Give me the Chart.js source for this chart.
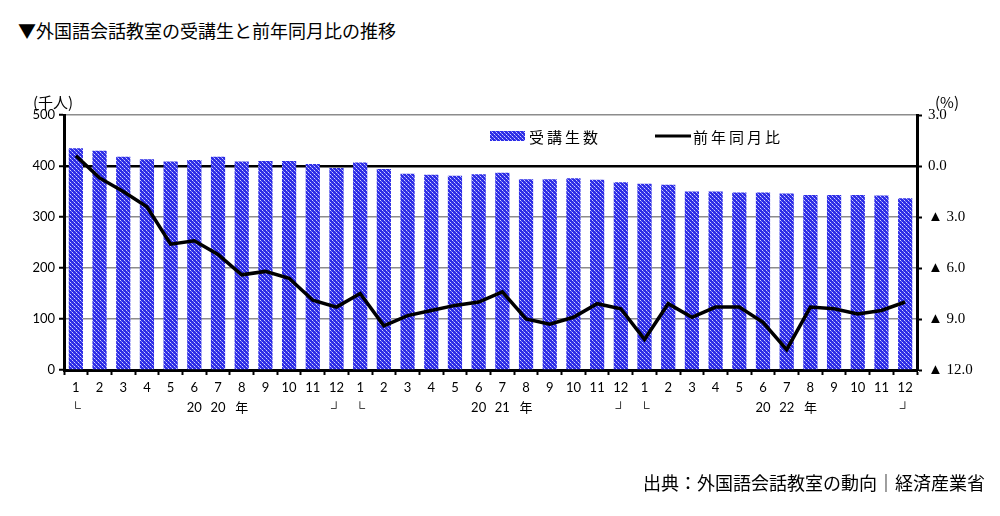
<!DOCTYPE html>
<html>
<head>
<meta charset="utf-8">
<script src="https://cdn.jsdelivr.net/npm/chart.js@4/dist/chart.umd.min.js"></script>
<style>
  html, body { margin: 0; padding: 0; background: #fff; }
  body { width: 1000px; height: 516px; position: relative; overflow: hidden;
         font-family: "Noto Sans CJK JP", sans-serif; color: #000; }
  #wrap { position: absolute; left: 0; top: 0; width: 1000px; height: 516px; }
  .txt { position: absolute; white-space: nowrap; line-height: 1; }
  #title { left: 18px; top: 21px; font-size: 18px; }
  #source { left: 643px; top: 473px; font-size: 18px; }
  #unitL { left: 33px; top: 94px; font-size: 15px; }
  #unitR { left: 935px; top: 94px; font-size: 15px; }
</style>
</head>
<body>
<div class="txt" id="title">▼外国語会話教室の受講生と前年同月比の推移</div>
<div id="wrap"><canvas id="chart" width="1000" height="516"></canvas></div>
<div class="txt" id="unitL">(千人)</div>
<div class="txt" id="unitR">(%)</div>
<div class="txt" id="source">出典：外国語会話教室の動向｜経済産業省</div>
<script>
// month row and second label row (2020-2022)
const months = [1,2,3,4,5,6,7,8,9,10,11,12, 1,2,3,4,5,6,7,8,9,10,11,12, 1,2,3,4,5,6,7,8,9,10,11,12];
const yearRow = [
  '└','','','','','20','20','年','','','','┘',
  '└','','','','','20','21','年','','','','┘',
  '└','','','','','20','22','年','','','','┘'
];
// 受講生数 (千人)
const students = [
  435, 430, 418, 413, 409, 412, 418, 409, 410, 410, 404, 396,
  407, 394, 385, 383, 381, 384, 387, 374, 374, 376, 373, 368,
  365, 363, 350, 350, 348, 348, 346, 343, 343, 343, 342, 337
];
// 前年同月比 (%)
const yoy = [
  0.6, -0.7, -1.5, -2.4, -4.6, -4.4, -5.2, -6.4, -6.2, -6.6, -7.9, -8.3,
  -7.5, -9.4, -8.8, -8.5, -8.2, -8.0, -7.4, -9.0, -9.3, -8.9, -8.1, -8.4,
  -10.2, -8.1, -8.9, -8.3, -8.3, -9.2, -10.8, -8.3, -8.4, -8.7, -8.5, -8.0
];
const legendNames = ['受講生数', '前年同月比'];

// checkered blue fill like the original
function makePattern() {
  const c = document.createElement('canvas');
  c.width = 4; c.height = 4;
  const g = c.getContext('2d');
  g.fillStyle = '#2d2de6';
  g.fillRect(0, 0, 4, 4);
  g.fillStyle = '#d2d2ff';
  g.fillRect(0, 0, 1, 1);
  g.fillRect(2, 2, 1, 1);
  g.fillStyle = '#8080f2';
  g.fillRect(1, 1, 1, 1);
  g.fillRect(3, 3, 1, 1);
  return document.getElementById('chart').getContext('2d').createPattern(c, 'repeat');
}
const barFill = makePattern();

const labels = months.map((m, i) => [String(m), yearRow[i]]);

const insideLegend = {
  id: 'insideLegend',
  afterDraw(chart) {
    const ctx = chart.ctx;
    ctx.save();
    ctx.fillStyle = barFill;
    ctx.fillRect(490, 131, 35, 10);
    ctx.strokeStyle = '#000';
    ctx.lineWidth = 3;
    ctx.beginPath();
    ctx.moveTo(655, 136);
    ctx.lineTo(691, 136);
    ctx.stroke();
    ctx.fillStyle = '#000';
    ctx.font = '15px "Noto Sans CJK JP"';
    ctx.letterSpacing = '3px';
    ctx.textBaseline = 'middle';
    ctx.fillText(legendNames[0], 529, 137);
    ctx.fillText(legendNames[1], 693, 137);
    ctx.restore();
  }
};

new Chart(document.getElementById('chart'), {
  data: {
    labels: labels,
    datasets: [
      {
        type: 'line',
        label: legendNames[1],
        data: yoy,
        yAxisID: 'y1',
        borderColor: '#000',
        borderWidth: 3.5,
        pointRadius: 0,
        tension: 0,
        order: 0
      },
      {
        type: 'bar',
        label: legendNames[0],
        data: students,
        yAxisID: 'y',
        backgroundColor: barFill,
        barPercentage: 0.6,
        categoryPercentage: 1,
        order: 1
      }
    ]
  },
  options: {
    responsive: false,
    animation: false,
    layout: { padding: { top: 115, left: 0, right: 0, bottom: 0 } },
    plugins: { legend: { display: false }, tooltip: { enabled: false } },
    scales: {
      x: {
        afterFit: s => { s.height = 146; },
        grid: { drawOnChartArea: false, offset: true, tickLength: 5, tickColor: '#000', tickWidth: 2 },
        border: { color: '#000', width: 3 },
        ticks: {
          color: '#000', maxRotation: 0, autoSkip: false, padding: 3,
          font: { family: 'Lato, "Noto Sans CJK JP"', size: 13, lineHeight: 1.55 }
        }
      },
      y: {
        position: 'left',
        min: 0, max: 500,
        afterFit: s => { s.width = 64; },
        ticks: { stepSize: 100, color: '#000', padding: 4, font: { family: 'Lato', size: 13 } },
        grid: {
          color: c => c.tick && c.tick.value === 400 ? '#000' : '#8c8c8c',
          lineWidth: c => c.tick && c.tick.value === 400 ? 2.5 : 1.5,
          tickColor: '#000', tickLength: 5, tickWidth: 2
        },
        border: { color: '#000', width: 3 }
      },
      y1: {
        position: 'right',
        min: -12, max: 3,
        afterFit: s => { s.width = 83; },
        ticks: {
          stepSize: 3, color: '#000', padding: 6,
          font: { family: '"Liberation Serif"', size: 15 },
          callback: v => v < 0 ? '▲ ' + Math.abs(v).toFixed(1) : v.toFixed(1)
        },
        grid: { drawOnChartArea: false, tickColor: '#000', tickLength: 5, tickWidth: 2 },
        border: { color: '#000', width: 3 }
      }
    }
  },
  plugins: [insideLegend]
});
</script>
</body>
</html>
